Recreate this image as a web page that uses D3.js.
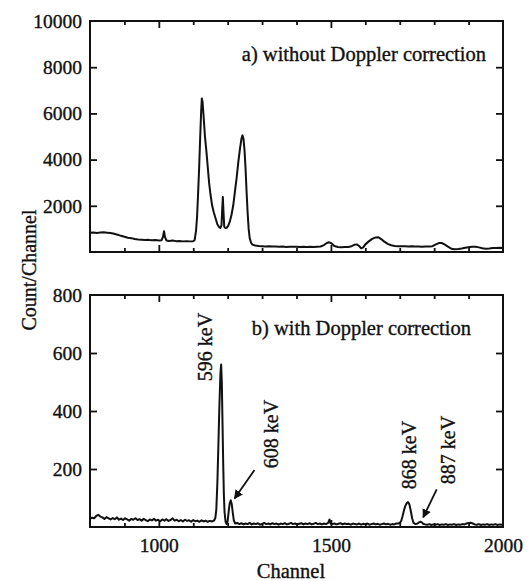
<!DOCTYPE html>
<html><head><meta charset="utf-8">
<script src="https://cdn.jsdelivr.net/npm/d3@7"></script>
<style>
html,body{margin:0;padding:0;background:#fff;}
</style></head>
<body><svg id="c" width="531" height="581"></svg>
<script>
// ---- data ----
const xTicks = [1000, 1500, 2000];
const topYTicks = [2000, 4000, 6000, 8000, 10000];
const botYTicks = [200, 400, 600, 800];
const topLabel = "a) without Doppler correction";
const botLabel = "b) with Doppler correction";
const peakLabels = ["596 keV", "608 keV", "868 keV", "887 keV"];

const topChannel = [800,810,820,830,840,850,860,870,880,890,900,910,920,930,940,950,960,970,980,990,1000,1008,1012,1015,1018,1022,1030,1040,1050,1060,1070,1080,1090,1100,1104,1108,1111,1114,1117,1120,1123,1125,1127,1130,1134,1138,1142,1146,1150,1155,1160,1165,1170,1175,1179,1182,1184,1186,1188,1190,1193,1197,1201,1206,1211,1216,1221,1226,1231,1236,1240,1243,1246,1249,1252,1255,1258,1261,1264,1268,1272,1280,1290,1300,1310,1320,1330,1340,1350,1360,1370,1380,1390,1400,1410,1420,1430,1440,1450,1460,1470,1480,1488,1495,1502,1510,1520,1530,1540,1550,1560,1568,1575,1582,1588,1594,1600,1610,1620,1630,1638,1646,1655,1665,1675,1685,1695,1705,1715,1725,1735,1745,1755,1765,1775,1785,1795,1805,1815,1822,1830,1840,1850,1860,1870,1880,1890,1900,1910,1920,1930,1940,1950,1960,1970,1980,1990,2000];
const topCount = [830,845,825,840,850,835,820,790,750,700,660,620,600,560,540,530,520,525,510,515,500,510,650,900,640,500,480,500,470,480,460,470,460,470,520,900,1500,2500,3600,4900,6100,6650,6500,5900,5000,4400,3700,3000,2500,2000,1700,1450,1200,1080,1040,1150,1800,2380,1700,1100,1040,1050,1120,1300,1600,2000,2600,3200,3900,4500,4900,5050,4900,4400,3600,2600,1700,1000,600,400,320,280,260,250,240,250,235,240,230,235,220,230,225,230,220,225,215,225,220,230,240,300,390,420,370,260,220,210,215,220,250,310,330,260,160,200,330,460,570,630,640,560,450,350,290,260,250,245,250,240,245,235,240,230,240,235,250,330,395,390,330,230,140,120,130,150,180,210,230,230,200,160,140,150,170,175,180,175];

const botChannel = [800,806,812,818,824,830,836,842,848,854,860,866,872,878,884,890,896,902,908,914,920,926,932,938,944,950,956,962,968,974,980,986,992,998,1004,1010,1016,1022,1028,1034,1040,1046,1052,1058,1064,1070,1076,1082,1088,1094,1100,1106,1112,1118,1124,1130,1136,1142,1148,1154,1160,1164,1167,1170,1173,1176,1179,1181,1183,1185,1187,1189,1191,1194,1197,1200,1203,1206,1209,1212,1215,1218,1222,1228,1234,1240,1246,1252,1258,1264,1270,1276,1282,1288,1294,1300,1306,1312,1318,1324,1330,1336,1342,1348,1354,1360,1366,1372,1378,1384,1390,1396,1402,1408,1414,1420,1426,1432,1438,1444,1450,1456,1462,1468,1474,1480,1486,1492,1496,1499,1504,1510,1516,1522,1528,1534,1540,1546,1552,1558,1564,1570,1576,1582,1588,1594,1600,1606,1612,1618,1624,1630,1636,1642,1648,1654,1660,1666,1672,1678,1684,1690,1696,1700,1704,1708,1712,1716,1720,1724,1728,1732,1736,1740,1746,1752,1756,1760,1764,1768,1774,1780,1786,1792,1798,1804,1810,1816,1822,1828,1834,1840,1846,1852,1858,1864,1870,1876,1882,1888,1894,1900,1906,1912,1918,1924,1930,1936,1942,1948,1954,1960,1966,1972,1978,1984,1990,1996,2000];
const botCount = [28,32,30,38,42,36,33,28,34,30,26,31,27,33,25,29,24,30,26,22,28,25,30,24,27,22,28,24,20,26,23,28,22,25,20,26,22,27,21,24,30,22,25,20,24,19,25,21,23,18,24,20,22,18,23,19,22,18,21,19,22,30,60,150,280,420,530,560,500,360,220,110,50,18,10,20,55,82,92,78,48,22,12,14,10,13,9,12,10,14,9,12,10,13,8,11,14,10,12,9,13,10,12,8,12,10,13,9,11,14,10,12,9,11,13,9,12,10,13,9,11,14,10,12,9,12,10,14,26,12,10,12,9,11,13,9,12,10,11,8,12,10,9,12,8,11,9,12,8,10,12,9,11,8,10,12,9,11,8,10,9,12,12,14,20,36,56,72,82,86,78,56,30,14,10,12,16,18,16,11,9,8,10,7,9,8,10,7,9,8,10,7,9,8,10,7,9,8,10,9,12,14,15,12,9,8,10,7,9,8,10,7,9,8,10,7,9,8,9];

// ---- layout ----
const FONT = "Liberation Serif";
const INK = "#111";
const svg = d3.select("#c");
const L = 90, R = 503;
const x = d3.scaleLinear().domain([800, 2000]).range([L, R]);
const panels = [
  {top: 21, bot: 252, max: 10000, ticks: topYTicks, ch: topChannel, ct: topCount, label: topLabel, lx: 486, ly: 61, xlabels: false},
  {top: 295, bot: 527, max: 800, ticks: botYTicks, ch: botChannel, ct: botCount, label: botLabel, lx: 471, ly: 335, xlabels: true}
];
const minor = d3.range(900, 2000, 100);
const txt = (sel, size) => sel.attr("font-family", FONT).attr("font-size", size).attr("fill", INK)
  .attr("stroke", INK).attr("stroke-width", 0.35);

panels.forEach(p => {
  const y = d3.scaleLinear().domain([0, p.max]).range([p.bot, p.top]);
  p.y = y;
  const g = svg.append("g");
  const pts = p.ch.map((c, i) => [c, p.ct[i]]);
  g.append("path").datum(pts)
    .attr("fill", "none").attr("stroke", INK).attr("stroke-width", 2)
    .attr("stroke-linejoin", "round")
    .attr("d", d3.line().x(d => x(d[0])).y(d => y(d[1])));
  const tickStyle = sel => { sel.select(".domain").remove(); sel.selectAll("line").attr("stroke", INK).attr("stroke-width", 1.8); sel.selectAll("text").remove(); };
  [[d3.axisBottom, p.bot], [d3.axisTop, p.top]].forEach(([ax, yy]) => {
    g.append("g").attr("transform", `translate(0,${yy})`)
      .call(ax(x).tickValues(minor.filter(v => v % 500)).tickSizeInner(-4).tickSizeOuter(0)).call(tickStyle);
    g.append("g").attr("transform", `translate(0,${yy})`)
      .call(ax(x).tickValues([1000, 1500]).tickSizeInner(-7).tickSizeOuter(0)).call(tickStyle);
  });
  [[d3.axisLeft, L], [d3.axisRight, R]].forEach(([ax, xx]) => {
    g.append("g").attr("transform", `translate(${xx},0)`)
      .call(ax(y).tickValues(p.ticks.filter(v => v < p.max)).tickSizeInner(-7).tickSizeOuter(0)).call(tickStyle);
  });
  g.append("g").attr("transform", `translate(${L},0)`)
    .call(d3.axisLeft(y).tickValues(p.ticks).tickSize(0).tickPadding(8).tickFormat(d3.format("d")))
    .call(sel => { sel.select(".domain").remove(); sel.attr("font-family", FONT); txt(sel.selectAll("text"), 19.5); });
  g.append("rect").attr("x", L).attr("y", p.top).attr("width", R - L).attr("height", p.bot - p.top)
    .attr("fill", "none").attr("stroke", INK).attr("stroke-width", 2);
  txt(g.append("text").attr("x", p.lx).attr("y", p.ly).attr("text-anchor", "end"), 20.5).text(p.label);
  if (p.xlabels) {
    g.append("g").attr("transform", `translate(0,${p.bot})`)
      .call(d3.axisBottom(x).tickValues(xTicks).tickSize(0).tickPadding(11).tickFormat(d3.format("d")))
      .call(sel => { sel.select(".domain").remove(); sel.attr("font-family", FONT); txt(sel.selectAll("text"), 19.5); });
  }
});

const yb = panels[1].y;
const ann = [{bx: 212, cy: 347}, {bx: 278, cy: 434}, {bx: 416, cy: 455}, {bx: 455, cy: 450}];
peakLabels.forEach((t, i) => {
  txt(svg.append("text").attr("transform", `translate(${ann[i].bx},${ann[i].cy}) rotate(-90)`)
    .attr("text-anchor", "middle"), 20).text(t);
});
const defs = svg.append("defs");
defs.append("marker").attr("id", "ah").attr("viewBox", "0 0 10 10").attr("refX", 9).attr("refY", 5)
  .attr("markerWidth", 5).attr("markerHeight", 5).attr("orient", "auto")
  .append("path").attr("d", "M0,0 L10,5 L0,10 Z").attr("fill", INK);
const arrows = [{from: [254.5, 470], ch: 1220, v: 98}, {from: [436.7, 489.3], ch: 1768, v: 33}];
arrows.forEach(a => {
  svg.append("line").attr("x1", a.from[0]).attr("y1", a.from[1])
    .attr("x2", x(a.ch)).attr("y2", yb(a.v))
    .attr("stroke", INK).attr("stroke-width", 1.8).attr("marker-end", "url(#ah)");
});

txt(svg.append("text").attr("x", 291).attr("y", 578).attr("text-anchor", "middle"), 20.5).text("Channel");
txt(svg.append("text").attr("transform", "translate(36,270) rotate(-90)").attr("text-anchor", "middle"), 20).text("Count/Channel");
</script></body></html>
